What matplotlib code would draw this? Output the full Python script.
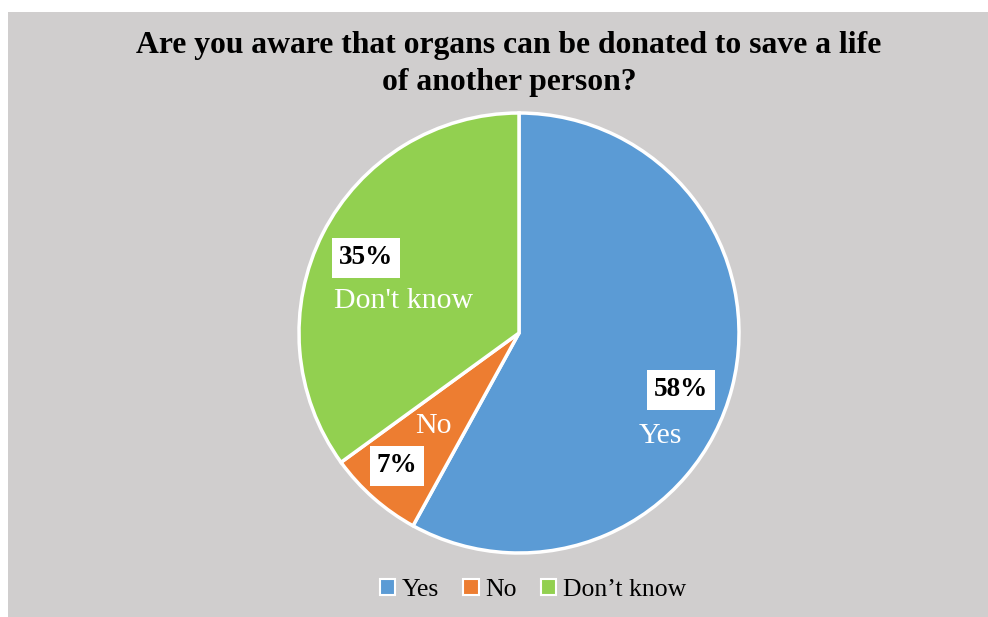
import matplotlib.pyplot as plt
from matplotlib.patches import Rectangle, Patch

# data
categories = ['Yes', 'No', "Don't know"]
legend_labels = ['Yes', 'No', 'Don\u2019t know']
shares = [58, 7, 35]
colors = ['#5B9BD5', '#ED7D31', '#92D050']
title = 'Are you aware that organs can be donated to save a life\nof another person?'

# label anchors in pixels of the 988x617 picture (y from top)
pct_pos = [(681, 390), (397, 466), (366, 258)]
name_pos = [(660, 436), (433, 426), (404, 301)]

W, H = 988, 617
plt.rcParams['font.family'] = ['Liberation Serif', 'DejaVu Serif']

fig = plt.figure(figsize=(W / 100, H / 100), dpi=100)
fig.patches.append(Rectangle((8 / W, 0), 1, 605 / H, transform=fig.transFigure,
                             facecolor='#D0CECE', edgecolor='none', zorder=-5))
ax = fig.add_axes([0, 0, 1, 1])
ax.patch.set_alpha(0)

ax.pie(shares, colors=colors, startangle=90, counterclock=False,
       center=(519, H - 333), radius=220,
       wedgeprops=dict(edgecolor='white', linewidth=2.5))
ax.set_xlim(0, W)
ax.set_ylim(0, H)
ax.axis('off')

for v, name, (px, py), (nx, ny) in zip(shares, categories, pct_pos, name_pos):
    ax.text(px, H - py, f'{v}%', ha='center', va='center', fontsize=19.5,
            fontweight='bold', color='black',
            bbox=dict(facecolor='white', edgecolor='none', pad=5))
    ax.text(nx, H - ny, name, ha='center', va='center', fontsize=21.5, color='white')

fig.text(509 / W, 1 - 64 / H, title, ha='center', va='center', fontsize=22.8,
         fontweight='bold', linespacing=1.4)

handles = [Patch(facecolor=c, edgecolor='white', linewidth=1.5) for c in colors]
fig.legend(handles, legend_labels, loc='center', bbox_to_anchor=(533 / W, 1 - 590 / H),
           ncol=3, frameon=False, fontsize=18.5, handlelength=0.6, handleheight=0.6,
           handletextpad=0.25, columnspacing=0.95)

fig.savefig('out.png', dpi=100)
